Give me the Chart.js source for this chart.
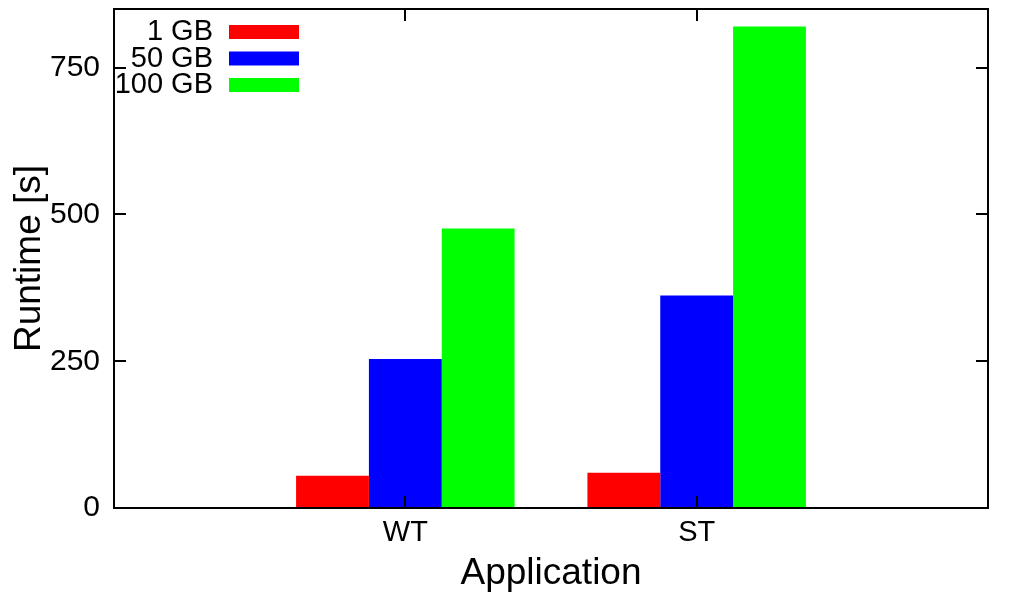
<!DOCTYPE html>
<html>
<head>
<meta charset="utf-8">
<script src="https://cdn.jsdelivr.net/npm/chart.js@4.4.1/dist/chart.umd.min.js"></script>
<style>
  html, body { margin: 0; padding: 0; background: #fff; }
  #wrap { width: 1011px; height: 596px; }
</style>
</head>
<body>
<div id="wrap"><canvas id="runtimeChart" width="1011" height="596"></canvas></div>
<script>
// DATA
// empty slots at both ends give gnuplot-like x range (-1 .. 2)
const apps = ['', 'WT', 'ST', ''];
const sizes = ['1 GB', '50 GB', '100 GB'];
const gb1 = [null, 55, 60, null];
const gb50 = [null, 254, 362, null];
const gb100 = [null, 476, 820, null];
const yTicks = [0, 250, 500, 750];
const colors = ['#ff0000', '#0000ff', '#00ff00'];

const FONT = '"Liberation Sans", Arial, Helvetica, sans-serif';

// frame + inward tick marks, gnuplot style
const framePlugin = {
  id: 'frame',
  afterDraw(chart) {
    const {ctx, chartArea: a, scales} = chart;
    ctx.save();
    ctx.strokeStyle = '#000';
    ctx.lineWidth = 2;
    ctx.beginPath();
    yTicks.forEach(v => {
      const y = Math.round(scales.y.getPixelForValue(v));
      ctx.moveTo(a.left, y); ctx.lineTo(a.left + 12, y);
      ctx.moveTo(a.right, y); ctx.lineTo(a.right - 12, y);
    });
    apps.forEach((lab, i) => {
      if (!lab) return;
      const x = Math.round(scales.x.getPixelForValue(i));
      ctx.moveTo(x, a.bottom); ctx.lineTo(x, a.bottom - 12);
      ctx.moveTo(x, a.top); ctx.lineTo(x, a.top + 12);
    });
    ctx.stroke();
    ctx.strokeRect(a.left, a.top, a.right - a.left, a.bottom - a.top);
    ctx.restore();
  }
};

// legend inside top-left: right aligned text then color sample
const keyPlugin = {
  id: 'key',
  afterDraw(chart) {
    const {ctx, chartArea: a} = chart;
    ctx.save();
    ctx.font = '29px ' + FONT;
    ctx.textAlign = 'right';
    ctx.textBaseline = 'middle';
    chart.data.datasets.forEach((ds, i) => {
      const y = a.top + 22 + i * 26.5;
      ctx.fillStyle = '#000';
      ctx.fillText(ds.label, a.left + 99, y + 1);
      ctx.fillStyle = ds.backgroundColor;
      ctx.fillRect(a.left + 115, y - 6, 70, 14);
    });
    ctx.restore();
  }
};

const data = {
  labels: apps,
  datasets: [
    {label: sizes[0], data: gb1, backgroundColor: colors[0]},
    {label: sizes[1], data: gb50, backgroundColor: colors[1]},
    {label: sizes[2], data: gb100, backgroundColor: colors[2]}
  ]
};

const config = {
  type: 'bar',
  data: data,
  options: {
    responsive: false,
    animation: false,
    layout: {padding: {left: 0, right: 23, top: 9, bottom: 0}},
    datasets: {bar: {categoryPercentage: 0.75, barPercentage: 1.0, borderWidth: 0}},
    plugins: {legend: {display: false}, tooltip: {enabled: false}},
    scales: {
      x: {
        offset: false,
        grid: {display: false, drawTicks: false},
        border: {display: false},
        ticks: {color: '#000', font: {family: FONT, size: 29}, padding: 8, autoSkip: false, maxRotation: 0},
        title: {display: true, text: 'Application', color: '#000', font: {family: FONT, size: 37}, padding: {top: 0, bottom: 0}},
        afterFit(scale) { scale.height = 88; scale.paddingLeft = 0; scale.paddingRight = 0; }
      },
      y: {
        min: 0,
        max: 850,
        afterBuildTicks(scale) { scale.ticks = yTicks.map(v => ({value: v})); },
        grid: {display: false, drawTicks: false},
        border: {display: false},
        ticks: {color: '#000', font: {family: FONT, size: 30}, padding: 14},
        title: {display: true, text: 'Runtime [s]', color: '#000', font: {family: FONT, size: 37}, padding: {top: 8, bottom: 0}},
        afterFit(scale) { scale.width = 114; scale.paddingTop = 0; scale.paddingBottom = 0; }
      }
    }
  },
  plugins: [framePlugin, keyPlugin]
};

const runtimeChart = new Chart(document.getElementById('runtimeChart'), config);
</script>
</body>
</html>
